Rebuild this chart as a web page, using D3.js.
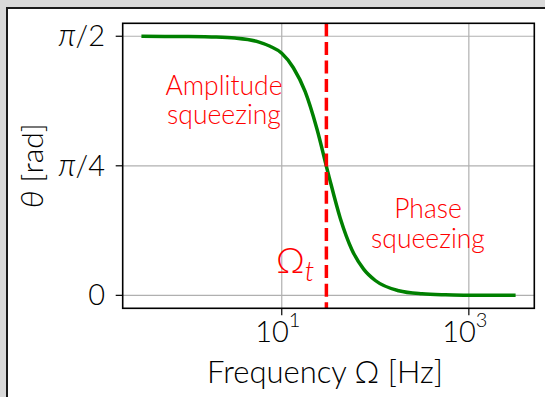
<!DOCTYPE html>
<html>
<head>
<meta charset="utf-8">
<script src="https://cdn.jsdelivr.net/npm/d3@7"></script>
<style>
    body { margin: 0; overflow: hidden; background: #d9d9d9; }
    text { font-family: Lato, "DejaVu Sans", sans-serif; font-weight: 300; }
    .math { font-style: italic; }
</style>
</head>
<body>
<script>
// values
const frequency = [0.316, 0.562, 1, 1.78, 3.16, 5.62, 7.5, 10, 13.3, 17.8, 23.7, 31.6, 42.2, 56.2, 75, 100, 178, 316, 562, 1000, 1780, 3160];
const theta = [1.571, 1.570, 1.570, 1.567, 1.560, 1.537, 1.510, 1.468, 1.380, 1.235, 1.012, 0.732, 0.468, 0.277, 0.159, 0.090, 0.028, 0.009, 0.003, 0.001, 0.000, 0.000];
const omega_t = 30;

const x_ticks = [10, 1000];
const x_tick_exponents = ["1", "3"];
const y_ticks = [0, Math.PI / 4, Math.PI / 2];
const y_tick_labels = [["", "0"], ["π", "/4"], ["π", "/2"]];

const width = 545, height = 397;
const plot = { left: 122.7, right: 534.3, top: 23.3, bottom: 308.3 };

const svg = d3.select("body").append("svg")
    .attr("width", width)
    .attr("height", height);

svg.append("rect")
    .attr("width", width).attr("height", height)
    .attr("fill", "#d9d9d9");

// white figure panel
svg.append("rect")
    .attr("x", 7).attr("y", 8)
    .attr("width", 600).attr("height", 450)
    .attr("fill", "white")
    .attr("stroke", "#1a1a1a")
    .attr("stroke-width", 2);

const log_min = Math.log10(frequency[0]), log_max = Math.log10(frequency[frequency.length - 1]);
const x_pad = (log_max - log_min) * 0.05;
const x = d3.scaleLog()
    .domain([Math.pow(10, log_min - x_pad), Math.pow(10, log_max + x_pad)])
    .range([plot.left, plot.right]);

const y_pad = Math.PI / 2 * 0.05;
const y = d3.scaleLinear()
    .domain([-y_pad, Math.PI / 2 + y_pad])
    .range([plot.bottom, plot.top]);

// grid
svg.append("g").selectAll("line")
    .data(x_ticks)
    .enter().append("line")
    .attr("x1", d => x(d)).attr("x2", d => x(d))
    .attr("y1", plot.top).attr("y2", plot.bottom)
    .attr("stroke", "#b0b0b0").attr("stroke-width", 1.2);

svg.append("g").selectAll("line")
    .data(y_ticks)
    .enter().append("line")
    .attr("x1", plot.left).attr("x2", plot.right)
    .attr("y1", d => y(d)).attr("y2", d => y(d))
    .attr("stroke", "#b0b0b0").attr("stroke-width", 1.2);

// curve
const line = d3.line()
    .x((d, i) => x(frequency[i]))
    .y(d => y(d))
    .curve(d3.curveMonotoneX);

svg.append("path")
    .datum(theta)
    .attr("d", line)
    .attr("fill", "none")
    .attr("stroke", "#008000")
    .attr("stroke-width", 3.5);

// transition frequency
svg.append("line")
    .attr("x1", x(omega_t)).attr("x2", x(omega_t))
    .attr("y1", plot.top).attr("y2", plot.bottom)
    .attr("stroke", "red")
    .attr("stroke-width", 3.5)
    .attr("stroke-dasharray", "13,5.6");

// axes frame
svg.append("rect")
    .attr("x", plot.left).attr("y", plot.top)
    .attr("width", plot.right - plot.left)
    .attr("height", plot.bottom - plot.top)
    .attr("fill", "none")
    .attr("stroke", "black")
    .attr("stroke-width", 1.6);

// ticks
svg.append("g").selectAll("line")
    .data(x_ticks)
    .enter().append("line")
    .attr("x1", d => x(d)).attr("x2", d => x(d))
    .attr("y1", plot.bottom).attr("y2", plot.bottom + 7)
    .attr("stroke", "black").attr("stroke-width", 1.2);

svg.append("g").selectAll("line")
    .data(y_ticks)
    .enter().append("line")
    .attr("x1", plot.left - 7).attr("x2", plot.left)
    .attr("y1", d => y(d)).attr("y2", d => y(d))
    .attr("stroke", "black").attr("stroke-width", 1.2);

// x tick labels
const x_labels = svg.append("g").selectAll("text")
    .data(x_ticks)
    .enter().append("text")
    .attr("x", d => x(d) - 4)
    .attr("y", 342)
    .attr("text-anchor", "middle")
    .attr("font-size", 29)
    .attr("fill", "black");
x_labels.append("tspan").text("10");
x_labels.append("tspan")
    .attr("dy", -15)
    .attr("font-size", 20)
    .text((d, i) => x_tick_exponents[i]);

// y tick labels
const y_labels = svg.append("g").selectAll("text")
    .data(y_ticks)
    .enter().append("text")
    .attr("x", 105)
    .attr("y", d => y(d) + 10)
    .attr("text-anchor", "end")
    .attr("font-size", 29)
    .attr("fill", "black");
y_labels.append("tspan")
    .attr("class", "math")
    .attr("font-size", 31)
    .text((d, i) => y_tick_labels[i][0]);
y_labels.append("tspan")
    .text((d, i) => y_tick_labels[i][1]);

// axis titles
svg.append("text")
    .attr("x", 325)
    .attr("y", 383)
    .attr("text-anchor", "middle")
    .attr("font-size", 31)
    .text("Frequency Ω [Hz]");

const y_title = svg.append("text")
    .attr("transform", "translate(43," + ((plot.top + plot.bottom) / 2) + ") rotate(-90)")
    .attr("text-anchor", "middle")
    .attr("font-size", 30);
y_title.append("tspan").attr("class", "math").attr("font-size", 32).text("θ");
y_title.append("tspan").text(" [rad]");

// annotations
const amp = svg.append("text")
    .attr("text-anchor", "middle")
    .attr("font-size", 26.5)
    .attr("fill", "red");
amp.append("tspan").attr("x", 224).attr("y", 95).text("Amplitude");
amp.append("tspan").attr("x", 224).attr("y", 124).text("squeezing");

const phase = svg.append("text")
    .attr("text-anchor", "middle")
    .attr("font-size", 26.5)
    .attr("fill", "red");
phase.append("tspan").attr("x", 428).attr("y", 218).text("Phase");
phase.append("tspan").attr("x", 428).attr("y", 248).text("squeezing");

const om = svg.append("text")
    .attr("x", x(omega_t) - 12)
    .attr("y", 273)
    .attr("text-anchor", "end")
    .attr("font-size", 36)
    .attr("fill", "red");
om.append("tspan").text("Ω");
om.append("tspan")
    .attr("class", "math")
    .attr("dy", 8)
    .attr("font-size", 28)
    .text("t");
</script>
</body>
</html>
